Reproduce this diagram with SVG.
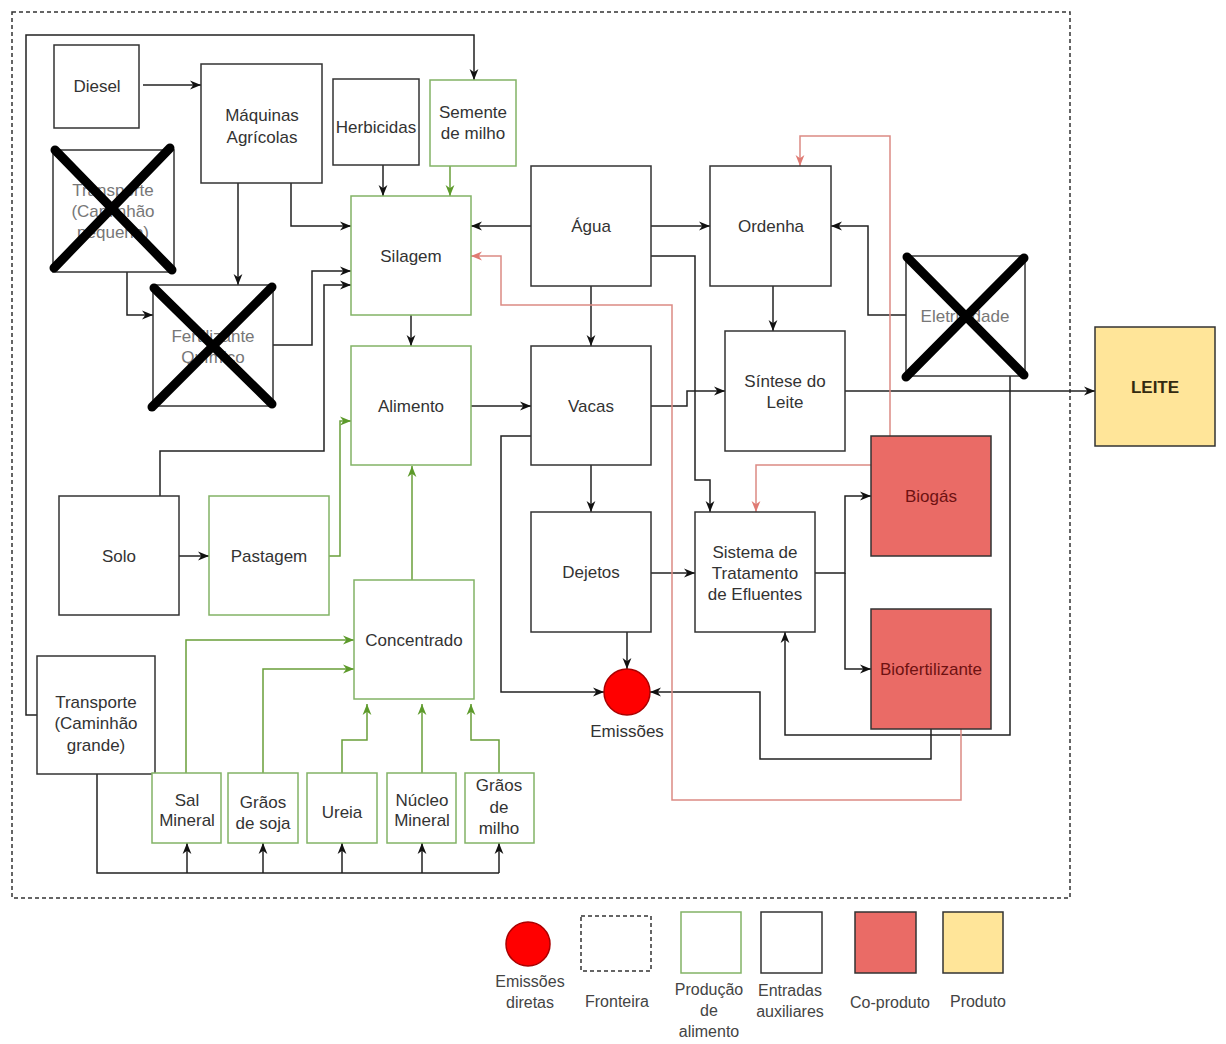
<svg xmlns="http://www.w3.org/2000/svg" width="1226" height="1044" viewBox="0 0 1226 1044">
<defs>
<style>
.n{fill:#fff;stroke:#333;stroke-width:1.5}
.g{fill:#fff;stroke:#82b366;stroke-width:1.5}
.co{fill:#ea6b66;stroke:#333;stroke-width:1.5}
.pr{fill:#ffe599;stroke:#333;stroke-width:1.5}
text{font-family:"Liberation Sans",Arial,sans-serif;font-size:17px;fill:#333;text-anchor:middle}
.tx{fill:#777}
.tr{fill:#6e1212}
.b{font-weight:bold;fill:#332a10}
.lg{font-size:16px;fill:#444}
.x{stroke:#000;stroke-width:9;stroke-linecap:round}
.k{fill:none;stroke:#222;stroke-width:1.5}
.kg{fill:none;stroke:#6a9f3a;stroke-width:1.5}
.kr{fill:none;stroke:#dc8a84;stroke-width:1.5}
.bd{fill:none;stroke:#333;stroke-width:1.5;stroke-dasharray:4 3}
</style>
<marker id="ak" viewBox="0 0 10 10" refX="10" refY="5" markerWidth="11" markerHeight="11" markerUnits="userSpaceOnUse" orient="auto"><path d="M0,1 L10,5 L0,9 L3,5 z" fill="#111"/></marker>
<marker id="ag" viewBox="0 0 10 10" refX="10" refY="5" markerWidth="11" markerHeight="11" markerUnits="userSpaceOnUse" orient="auto"><path d="M0,1 L10,5 L0,9 L3,5 z" fill="#5c9a2a"/></marker>
<marker id="ar" viewBox="0 0 10 10" refX="10" refY="5" markerWidth="11" markerHeight="11" markerUnits="userSpaceOnUse" orient="auto"><path d="M0,1 L10,5 L0,9 L3,5 z" fill="#e07a73"/></marker>
</defs>
<rect width="1226" height="1044" fill="#fff"/>
<rect id="fronteira" class="bd" x="12" y="12" width="1058" height="886"/>

<g id="connectors">
<path class="k" d="M143,85 H201" marker-end="url(#ak)"/>
<path class="k" d="M238,183 V285" marker-end="url(#ak)"/>
<path class="k" d="M291,183 V226 H351" marker-end="url(#ak)"/>
<path class="k" d="M383,165 V196" marker-end="url(#ak)"/>
<path class="kg" d="M450,166 V196" marker-end="url(#ag)"/>
<path class="k" d="M37,715 H26 V35 H474 V80" marker-end="url(#ak)"/>
<path class="k" d="M127,272 V315 H153" marker-end="url(#ak)"/>
<path class="k" d="M273,345 H312 V271 H351" marker-end="url(#ak)"/>
<path class="k" d="M160,496 V451 H324 V285 H351" marker-end="url(#ak)"/>
<path class="k" d="M411,315 V346" marker-end="url(#ak)"/>
<path class="kg" d="M329,556 H340 V421 H351" marker-end="url(#ag)"/>
<path class="kg" d="M412,580 V466" marker-end="url(#ag)"/>
<path class="k" d="M471,406 H531" marker-end="url(#ak)"/>
<path class="k" d="M179,556 H209" marker-end="url(#ak)"/>
<path class="k" d="M531,226 H471" marker-end="url(#ak)"/>
<path class="k" d="M651,226 H710" marker-end="url(#ak)"/>
<path class="k" d="M651,256 H695 V480 H710 V512" marker-end="url(#ak)"/>
<path class="k" d="M591,286 V346" marker-end="url(#ak)"/>
<path class="k" d="M773,286 V331" marker-end="url(#ak)"/>
<path class="k" d="M906,315 H868 V226 H831" marker-end="url(#ak)"/>
<path class="k" d="M651,406 H687 V391 H725" marker-end="url(#ak)"/>
<path class="k" d="M591,465 V512" marker-end="url(#ak)"/>
<path class="k" d="M531,436 H501 V692 H604" marker-end="url(#ak)"/>
<path class="k" d="M651,573 H695" marker-end="url(#ak)"/>
<path class="k" d="M627,632 V669" marker-end="url(#ak)"/>
<path class="k" d="M845,391 H1095" marker-end="url(#ak)"/>
<path class="k" d="M815,573 H845 V496 H871" marker-end="url(#ak)"/>
<path class="k" d="M845,573 V669 H871" marker-end="url(#ak)"/>
<path class="k" d="M1010,376 V735 H785 V632" marker-end="url(#ak)"/>
<path class="k" d="M931,729 V759 H760 V692 H650" marker-end="url(#ak)"/>
<path class="kr" d="M890,436 V136 H800 V166" marker-end="url(#ar)"/>
<path class="kr" d="M871,465 H756 V512" marker-end="url(#ar)"/>
<path class="kr" d="M961,729 V800 H672 V305 H501 V256 H471" marker-end="url(#ar)"/>
<path class="k" d="M97,774 V873 H499"/>
<path class="k" d="M187,873 V843" marker-end="url(#ak)"/>
<path class="k" d="M263,873 V843" marker-end="url(#ak)"/>
<path class="k" d="M342,873 V843" marker-end="url(#ak)"/>
<path class="k" d="M422,873 V843" marker-end="url(#ak)"/>
<path class="k" d="M499,873 V843" marker-end="url(#ak)"/>
<path class="kg" d="M186,773 V640 H354" marker-end="url(#ag)"/>
<path class="kg" d="M263,773 V669 H354" marker-end="url(#ag)"/>
<path class="kg" d="M342,773 V740 H367 V704" marker-end="url(#ag)"/>
<path class="kg" d="M422,773 V704" marker-end="url(#ag)"/>
<path class="kg" d="M499,773 V740 H471 V704" marker-end="url(#ag)"/>
</g>

<g id="diesel"><rect class="n" x="54" y="45" width="85" height="83"/><text x="97" y="92">Diesel</text></g>
<g id="maquinas"><rect class="n" x="201" y="64" width="121" height="119"/><text x="262" y="121">Máquinas</text><text x="262" y="143">Agrícolas</text></g>
<g id="herbicidas"><rect class="n" x="333" y="79" width="86" height="86"/><text x="376" y="133">Herbicidas</text></g>
<g id="semente"><rect class="g" x="430" y="80" width="86" height="86"/><text x="473" y="118">Semente</text><text x="473" y="139">de milho</text></g>
<g id="transporte-pequeno"><rect class="n" x="53" y="150" width="121" height="122"/><text class="tx" x="113" y="196">Transporte</text><text class="tx" x="113" y="217">(Caminhão</text><text class="tx" x="113" y="238">pequeno)</text><line class="x" x1="55" y1="150" x2="172" y2="270"/><line class="x" x1="170" y1="148" x2="54" y2="268"/></g>
<g id="fertilizante"><rect class="n" x="153" y="285" width="120" height="121"/><text class="tx" x="213" y="342">Fertilizante</text><text class="tx" x="213" y="363">Químico</text><line class="x" x1="154" y1="288" x2="272" y2="404"/><line class="x" x1="272" y1="287" x2="152" y2="407"/></g>
<g id="silagem"><rect class="g" x="351" y="196" width="120" height="119"/><text x="411" y="262">Silagem</text></g>
<g id="agua"><rect class="n" x="531" y="166" width="120" height="120"/><text x="591" y="232">Água</text></g>
<g id="ordenha"><rect class="n" x="710" y="166" width="121" height="120"/><text x="771" y="232">Ordenha</text></g>
<g id="eletricidade"><rect class="n" x="906" y="256" width="119" height="120"/><text class="tx" x="965" y="322">Eletricidade</text><line class="x" x1="907" y1="257" x2="1024" y2="375"/><line class="x" x1="1024" y1="258" x2="906" y2="377"/></g>
<g id="alimento"><rect class="g" x="351" y="346" width="120" height="119"/><text x="411" y="412">Alimento</text></g>
<g id="vacas"><rect class="n" x="531" y="346" width="120" height="119"/><text x="591" y="412">Vacas</text></g>
<g id="sintese"><rect class="n" x="725" y="331" width="120" height="120"/><text x="785" y="387">Síntese do</text><text x="785" y="408">Leite</text></g>
<g id="leite"><rect class="pr" x="1095" y="327" width="120" height="119"/><text class="b" x="1155" y="393">LEITE</text></g>
<g id="biogas"><rect class="co" x="871" y="436" width="120" height="120"/><text class="tr" x="931" y="502">Biogás</text></g>
<g id="solo"><rect class="n" x="59" y="496" width="120" height="119"/><text x="119" y="562">Solo</text></g>
<g id="pastagem"><rect class="g" x="209" y="496" width="120" height="119"/><text x="269" y="562">Pastagem</text></g>
<g id="dejetos"><rect class="n" x="531" y="512" width="120" height="120"/><text x="591" y="578">Dejetos</text></g>
<g id="sistema"><rect class="n" x="695" y="512" width="120" height="120"/><text x="755" y="558">Sistema de</text><text x="755" y="579">Tratamento</text><text x="755" y="600">de Efluentes</text></g>
<g id="concentrado"><rect class="g" x="354" y="580" width="120" height="119"/><text x="414" y="646">Concentrado</text></g>
<g id="biofertilizante"><rect class="co" x="871" y="609" width="120" height="120"/><text class="tr" x="931" y="675">Biofertilizante</text></g>
<g id="transporte-grande"><rect class="n" x="37" y="656" width="118" height="118"/><text x="96" y="708">Transporte</text><text x="96" y="729">(Caminhão</text><text x="96" y="751">grande)</text></g>
<g id="emissoes"><circle cx="627" cy="692" r="23" fill="#f00" stroke="#a00" stroke-width="1.5"/><text x="627" y="737">Emissões</text></g>
<g id="sal"><rect class="g" x="152" y="773" width="69" height="70"/><text x="187" y="806">Sal</text><text x="187" y="826">Mineral</text></g>
<g id="soja"><rect class="g" x="228" y="773" width="70" height="70"/><text x="263" y="808">Grãos</text><text x="263" y="829">de soja</text></g>
<g id="ureia"><rect class="g" x="307" y="773" width="70" height="70"/><text x="342" y="818">Ureia</text></g>
<g id="nucleo"><rect class="g" x="387" y="773" width="69" height="70"/><text x="422" y="806">Núcleo</text><text x="422" y="826">Mineral</text></g>
<g id="milho"><rect class="g" x="465" y="773" width="69" height="70"/><text x="499" y="791">Grãos</text><text x="499" y="813">de</text><text x="499" y="834">milho</text></g>

<g id="legenda">
<circle cx="528" cy="944" r="22" fill="#f00" stroke="#a00" stroke-width="1.5"/>
<rect class="bd" x="581" y="916" width="70" height="55"/>
<rect class="g" x="681" y="912" width="60" height="61"/>
<rect class="n" x="761" y="912" width="61" height="61"/>
<rect class="co" x="855" y="912" width="61" height="61"/>
<rect class="pr" x="943" y="912" width="60" height="61"/>
<text class="lg" x="530" y="987">Emissões</text><text class="lg" x="530" y="1008">diretas</text>
<text class="lg" x="617" y="1007">Fronteira</text>
<text class="lg" x="709" y="995">Produção</text><text class="lg" x="709" y="1016">de</text><text class="lg" x="709" y="1037">alimento</text>
<text class="lg" x="790" y="996">Entradas</text><text class="lg" x="790" y="1017">auxiliares</text>
<text class="lg" x="890" y="1008">Co-produto</text>
<text class="lg" x="978" y="1007">Produto</text>
</g>
</svg>
